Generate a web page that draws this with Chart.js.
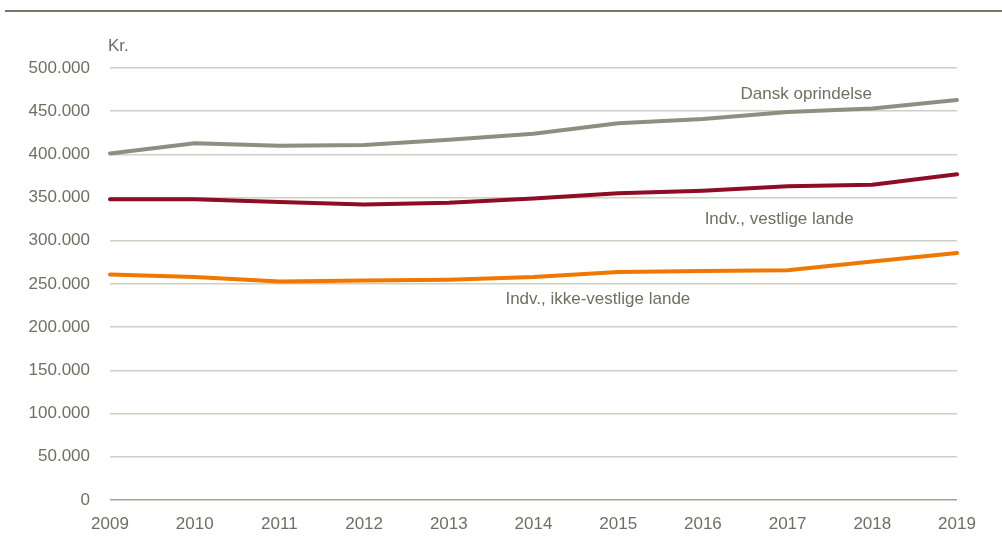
<!DOCTYPE html>
<html>
<head>
<meta charset="utf-8">
<title>Indkomst efter herkomst</title>
<script src="https://cdn.jsdelivr.net/npm/chart.js@4"></script>
<style>
  html, body { margin: 0; padding: 0; background: #fff; }
  #wrap { width: 1002px; height: 542px; position: relative; }
</style>
</head>
<body>
<div id="wrap"><canvas id="chartIncome"></canvas></div>
<script>
var years = ['2009', '2010', '2011', '2012', '2013', '2014', '2015', '2016', '2017', '2018', '2019'];
var danskOprindelse = [401000, 413000, 410000, 411000, 417000, 424000, 436000, 441000, 449000, 453000, 463000];
var vestligeLande = [348000, 348000, 345000, 342000, 344000, 349000, 355000, 358000, 363000, 365000, 377000];
var ikkeVestligeLande = [261000, 258000, 253000, 254000, 255000, 258000, 264000, 265000, 266000, 276000, 286000];
var seriesNames = ['Dansk oprindelse', 'Indv., vestlige lande', 'Indv., ikke-vestlige lande'];
var yTicks = [0, 50000, 100000, 150000, 200000, 250000, 300000, 350000, 400000, 450000, 500000];

(function () {
  var el = document.getElementById('chartIncome');
  if (!el || typeof Chart === 'undefined') return;

  var textColor = '#6f6f62';
  var fontFamily = '"Liberation Sans", Arial, sans-serif';

  function fmt(v) {
    return String(v).replace(/\B(?=(\d{3})+(?!\d))/g, '.');
  }

  // rule across the top, unit label and the inline series names
  var decorations = {
    id: 'decorations',
    afterDraw: function (chart) {
      var ctx = chart.ctx;
      var x = chart.scales.x, y = chart.scales.y;
      ctx.save();
      ctx.strokeStyle = '#77776a';
      ctx.lineWidth = 2;
      ctx.beginPath();
      ctx.moveTo(5, 11);
      ctx.lineTo(1002, 11);
      ctx.stroke();

      ctx.fillStyle = textColor;
      ctx.font = '17px ' + fontFamily;
      ctx.textBaseline = 'middle';
      ctx.textAlign = 'left';
      ctx.fillText('Kr.', chart.chartArea.left - 2, 46);

      ctx.textAlign = 'center';
      var spots = [
        { name: seriesNames[0], i: 8.22, v: 470000 },
        { name: seriesNames[1], i: 7.9, v: 325000 },
        { name: seriesNames[2], i: 5.76, v: 232000 }
      ];
      spots.forEach(function (s) {
        var px = x.left + (x.right - x.left) * s.i / (years.length - 1);
        ctx.fillText(s.name, px, y.getPixelForValue(s.v));
      });
      ctx.restore();
    }
  };

  new Chart(el.getContext('2d'), {
    type: 'line',
    data: {
      labels: years,
      datasets: [
        { label: seriesNames[0], data: danskOprindelse, borderColor: '#8f8e80' },
        { label: seriesNames[1], data: vestligeLande, borderColor: '#8e0c24' },
        { label: seriesNames[2], data: ikkeVestligeLande, borderColor: '#f07800' }
      ].map(function (d) {
        d.borderWidth = 4;
        d.pointRadius = 0;
        d.pointHoverRadius = 0;
        d.tension = 0;
        d.fill = false;
        d.borderCapStyle = 'round';
        d.borderJoinStyle = 'round';
        return d;
      })
    },
    options: {
      responsive: true,
      maintainAspectRatio: false,
      animation: false,
      layout: { padding: { top: 68, right: 45, left: 0, bottom: 0 } },
      plugins: {
        legend: { display: false },
        tooltip: { enabled: false }
      },
      scales: {
        x: {
          offset: false,
          grid: { display: false },
          border: { display: false },
          ticks: {
            color: textColor,
            font: { family: fontFamily, size: 17 },
            padding: 6,
            maxRotation: 0,
            autoSkip: false
          },
          afterFit: function (s) { s.height = 42; }
        },
        y: {
          min: 0,
          max: 500000,
          afterBuildTicks: function (s) {
            s.ticks = yTicks.map(function (v) { return { value: v }; });
          },
          grid: {
            drawTicks: false,
            lineWidth: 1.5,
            color: function (c) { return c.tick && c.tick.value === 0 ? '#a4a396' : '#cfcfc4'; }
          },
          border: { display: false },
          ticks: {
            color: textColor,
            font: { family: fontFamily, size: 17 },
            padding: 20,
            callback: function (v) { return fmt(v); }
          },
          afterFit: function (s) { s.width = 110; }
        }
      }
    },
    plugins: [decorations]
  });
})();
</script>
</body>
</html>
